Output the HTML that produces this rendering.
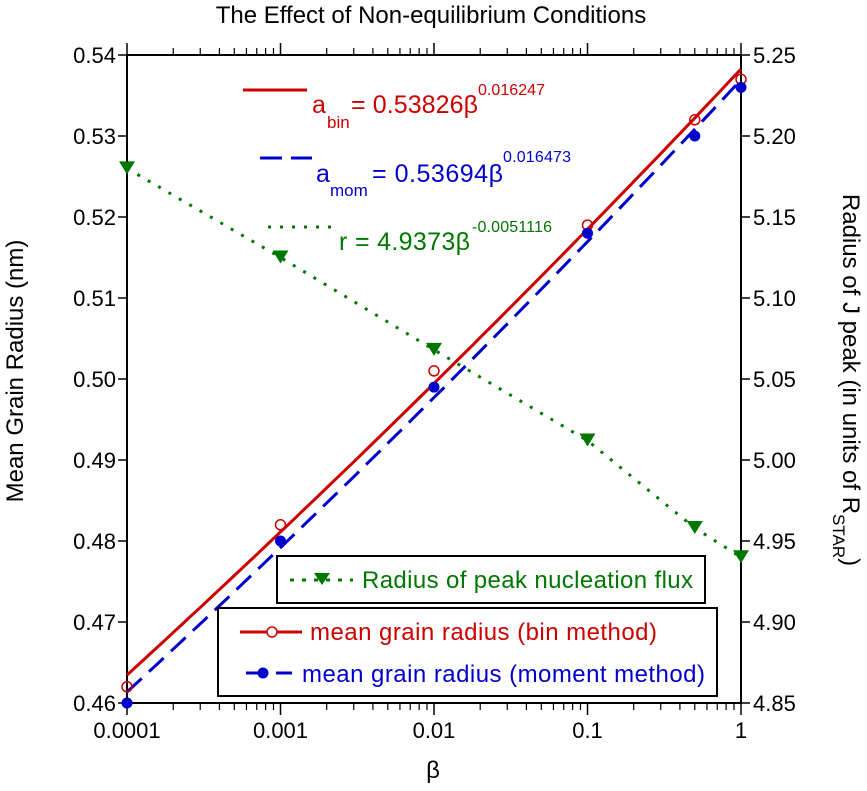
<!DOCTYPE html>
<html><head><meta charset="utf-8"><style>
body{margin:0;background:#fff}
svg{font-family:"Liberation Sans",Arial,sans-serif}
</style></head><body>
<svg id="c" width="867" height="786" viewBox="0 0 867 786" xmlns="http://www.w3.org/2000/svg">
<text x="431" y="23" text-anchor="middle" font-size="24">The Effect of Non-equilibrium Conditions</text>
<g id="axes"></g>
<g id="marks"></g>
<text transform="translate(23,371) rotate(-90)" text-anchor="middle" font-size="24">Mean Grain Radius (nm)</text>
<text transform="translate(843,380) rotate(90)" text-anchor="middle" font-size="24">Radius of J peak (in units of R<tspan font-size="17" dy="10">STAR</tspan><tspan dy="-10">)</tspan></text>
<text x="433" y="778" text-anchor="middle" font-size="24">β</text>
<g>
<line x1="243" y1="90" x2="307" y2="90" stroke="#cc0000" stroke-width="3"/>
<text x="312" y="113" fill="#cc0000" font-size="25">a</text>
<text x="327" y="128" fill="#cc0000" font-size="17">bin</text>
<text x="351" y="113" fill="#cc0000" font-size="25" textLength="127">= 0.53826β</text>
<text x="478" y="95" fill="#cc0000" font-size="16" textLength="67">0.016247</text>
<line x1="260" y1="158" x2="312" y2="158" stroke="#0000cc" stroke-width="3" stroke-dasharray="22,9"/>
<text x="316" y="182" fill="#0000cc" font-size="25">a</text>
<text x="330" y="196" fill="#0000cc" font-size="17">mom</text>
<text x="372" y="182" fill="#0000cc" font-size="25" textLength="131">= 0.53694β</text>
<text x="503" y="162" fill="#0000cc" font-size="16" textLength="68">0.016473</text>
<line x1="268" y1="227" x2="332" y2="227" stroke="#007700" stroke-width="3" stroke-dasharray="3,9"/>
<text x="339" y="250" fill="#007700" font-size="25" textLength="131">r = 4.9373β</text>
<text x="472" y="232" fill="#007700" font-size="16" textLength="80">-0.0051116</text>
</g>
<g>
<rect x="277" y="556" width="428" height="47" fill="#fff" stroke="#000" stroke-width="2"/>
<line x1="290" y1="580" x2="353" y2="580" stroke="#007700" stroke-width="3" stroke-dasharray="4,8"/>
<path d="M314,573 L330,573 L322,585Z" fill="#007700"/>
<text x="362" y="588" fill="#007700" font-size="24" textLength="331">Radius of peak nucleation flux</text>
</g>
<g>
<rect x="218" y="608" width="499" height="88" fill="#fff" stroke="#000" stroke-width="2"/>
<line x1="240" y1="632" x2="302" y2="632" stroke="#cc0000" stroke-width="3"/>
<circle cx="272" cy="632" r="5" fill="#fff" stroke="#cc0000" stroke-width="1.5"/>
<text x="310" y="640" fill="#cc0000" font-size="24" textLength="347">mean grain radius (bin method)</text>
<line x1="246" y1="673" x2="292" y2="673" stroke="#0000cc" stroke-width="3" stroke-dasharray="20,10"/>
<circle cx="263" cy="673" r="5.5" fill="#0000cc"/>
<text x="302" y="682" fill="#0000cc" font-size="24" textLength="403">mean grain radius (moment method)</text>
</g>
</svg>
<script>
const betas=[0.0001,0.001,0.01,0.1,0.5,1];
const binVals=[0.462,0.482,0.501,0.519,0.532,0.537];
const momVals=[0.460,0.480,0.499,0.518,0.530,0.536];
const fluxVals=[5.180,5.125,5.068,5.012,4.958,4.940];
const binFit=[0.53826,0.016247];
const momFit=[0.53694,0.016473];
const leftTicks=["0.46","0.47","0.48","0.49","0.50","0.51","0.52","0.53","0.54"];
const rightTicks=["4.85","4.90","4.95","5.00","5.05","5.10","5.15","5.20","5.25"];
const xTicks=["0.0001","0.001","0.01","0.1","1"];

const L=127,R=741,T=55,B=703;
const NS="http://www.w3.org/2000/svg";
const X=v=>L+(Math.log10(v)+4)/4*(R-L);
const YL=v=>B-(v-0.46)/0.08*(B-T);
const YR=v=>B-(v-4.85)/0.40*(B-T);
function mk(t,a,p){const e=document.createElementNS(NS,t);for(const k in a)e.setAttribute(k,a[k]);p.appendChild(e);return e;}
const ax=document.getElementById('axes'),mg=document.getElementById('marks');
const frame=mk('rect',{x:L,y:T,width:R-L,height:B-T,fill:'none',stroke:'#000','stroke-width':2},ax);


leftTicks.forEach(s=>{const y=YL(+s);mk('line',{x1:L-9,y1:y,x2:L,y2:y,stroke:'#000','stroke-width':1.5},ax);
const t=mk('text',{x:L-11,y:y+8,'text-anchor':'end','font-size':22},ax);t.textContent=s;

});
rightTicks.forEach(s=>{const y=YR(+s);mk('line',{x1:R,y1:y,x2:R+9,y2:y,stroke:'#000','stroke-width':1.5},ax);
const t=mk('text',{x:R+12,y:y+8,'font-size':22},ax);t.textContent=s;

});
xTicks.forEach((s,i)=>{const x=X(+s);
[B,T].forEach(yy=>{const d=yy===B?1:-1;mk('line',{x1:x,y1:yy,x2:x,y2:yy+d*12,stroke:'#000','stroke-width':1.5},ax);
if(i<4)for(let m=2;m<=9;m++){const xm=X(+s*m);mk('line',{x1:xm,y1:yy,x2:xm,y2:yy+d*7,stroke:'#000','stroke-width':1.2},ax);}});
const t=mk('text',{x:x,y:B+35,'text-anchor':'middle','font-size':22},ax);t.textContent=s;

});
function fitPath(p,Y){let d='';for(let i=0;i<=80;i++){const b=Math.pow(10,-4+i/20);d+=(i?'L':'M')+X(b).toFixed(1)+','+Y(p[0]*Math.pow(b,p[1])).toFixed(1);}return d;}
const fl=mk('path',{d:betas.map((b,i)=>(i?'L':'M')+X(b).toFixed(1)+','+YR(fluxVals[i]).toFixed(1)).join(''),fill:'none',stroke:'#007700','stroke-width':3,'stroke-dasharray':'3,9'},mg);


const rl=mk('path',{d:fitPath(binFit,YL),fill:'none',stroke:'#cc0000','stroke-width':3},mg);


const bl=mk('path',{d:fitPath(momFit,YL),fill:'none',stroke:'#0000cc','stroke-width':3,'stroke-dasharray':'20,10'},mg);


betas.forEach((b,i)=>{const x=X(b);
let y=YR(fluxVals[i]);
const tr=mk('path',{d:`M${x-8},${y-7}L${x+8},${y-7}L${x},${y+6}Z`,fill:'#007700'},mg);


const c1=mk('circle',{cx:x,cy:YL(binVals[i]),r:5,fill:'none',stroke:'#cc0000','stroke-width':1.5},mg);


const c2=mk('circle',{cx:x,cy:YL(momVals[i]),r:5.5,fill:'#0000cc'},mg);

});
</script>
</body></html>
